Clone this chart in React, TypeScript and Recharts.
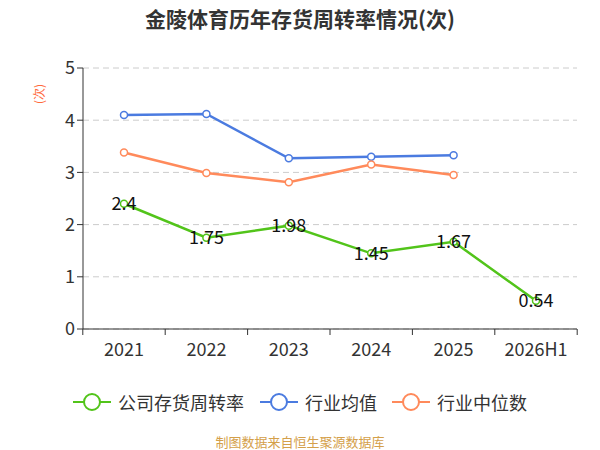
import { LineChart, Line, XAxis, YAxis, CartesianGrid, LabelList } from 'recharts'

const years = ['2021', '2022', '2023', '2024', '2025', '2026H1']
const company = [2.4, 1.75, 1.98, 1.45, 1.67, 0.54]
const industryAvg = [4.1, 4.12, 3.27, 3.3, 3.33, null]
const industryMedian = [3.38, 2.99, 2.81, 3.15, 2.95, null]
const yTicks = [0, 1, 2, 3, 4, 5]

const GREEN = '#52C41A'
const BLUE = '#4B7BE0'
const ORANGE = '#FF8A5B'
const FONT = '"Noto Sans CJK SC", "Noto Sans", sans-serif'

const data = years.map((y, i) => ({
  year: y,
  company: company[i],
  avg: industryAvg[i],
  median: industryMedian[i],
}))

const legendItems = [
  { name: '公司存货周转率', color: GREEN, left: 73 },
  { name: '行业均值', color: BLUE, left: 260 },
  { name: '行业中位数', color: ORANGE, left: 392 },
]

function XTick(props: any) {
  const { x, y, payload, index } = props
  const half = 41.2
  return (
    <g>
      <line x1={x - half} y1={y - 8} x2={x - half} y2={y - 2} stroke="#333" />
      {index === years.length - 1 && <line x1={x + half} y1={y - 8} x2={x + half} y2={y - 2} stroke="#333" />}
      <text x={x} y={y + 19} textAnchor="middle" fill="#333" fontSize={18} fontFamily={FONT}>
        {payload.value}
      </text>
    </g>
  )
}

export default function App() {
  return (
    <div style={{ position: 'absolute', left: 0, top: 0, width: 600, height: 450, background: '#fff', fontFamily: FONT }}>
      <div style={{ position: 'absolute', top: 3, width: 600, textAlign: 'center', fontSize: 21, lineHeight: '30px', fontWeight: 'bold', color: '#333' }}>
        金陵体育历年存货周转率情况(次)
      </div>
      <LineChart width={600} height={450} data={data} margin={{ top: 68, right: 23, left: 0, bottom: 91 }}>
        <CartesianGrid vertical={false} strokeDasharray="6 4" stroke="#ccc" />
        <XAxis
          dataKey="year"
          stroke="#333"
          tickLine={false}
          tick={<XTick />}
          interval={0}
          height={30}
          padding={{ left: 41, right: 41 }}
        />
        <YAxis
          domain={[0, 5]}
          ticks={yTicks}
          stroke="#333"
          width={83}
          tickSize={6}
          tick={{ fill: '#333', fontSize: 18, fontFamily: FONT }}
        />
        <Line dataKey="avg" stroke={BLUE} strokeWidth={2.5} dot={{ r: 3.5, fill: '#fff', strokeWidth: 1.5 }} isAnimationActive={false} />
        <Line dataKey="median" stroke={ORANGE} strokeWidth={2.5} dot={{ r: 3.5, fill: '#fff', strokeWidth: 1.5 }} isAnimationActive={false} />
        <Line dataKey="company" stroke={GREEN} strokeWidth={2.5} dot={{ r: 3.5, fill: '#fff', strokeWidth: 1.5 }} isAnimationActive={false}>
          <LabelList dataKey="company" position="center" fill="#111" fontSize={18} fontFamily={FONT} />
        </Line>
        <text x={38} y={94} transform="rotate(-90 38 94)" textAnchor="middle" dominantBaseline="central" fill="#FF6A3D" fontSize={12} fontFamily={FONT}>
          (次)
        </text>
      </LineChart>
      {legendItems.map((it) => (
        <div key={it.name} style={{ position: 'absolute', top: 390, left: it.left, display: 'flex', alignItems: 'center', fontSize: 18, lineHeight: '24px', color: '#333' }}>
          <svg width={38} height={24}>
            <line x1={0} y1={12} x2={38} y2={12} stroke={it.color} strokeWidth={2} />
            <circle cx={19} cy={12} r={8} fill="#fff" stroke={it.color} strokeWidth={2} />
          </svg>
          <span style={{ marginLeft: 7 }}>{it.name}</span>
        </div>
      ))}
      <div style={{ position: 'absolute', top: 432, width: 600, textAlign: 'center', fontSize: 13, color: '#D4A04A' }}>
        制图数据来自恒生聚源数据库
      </div>
    </div>
  )
}
